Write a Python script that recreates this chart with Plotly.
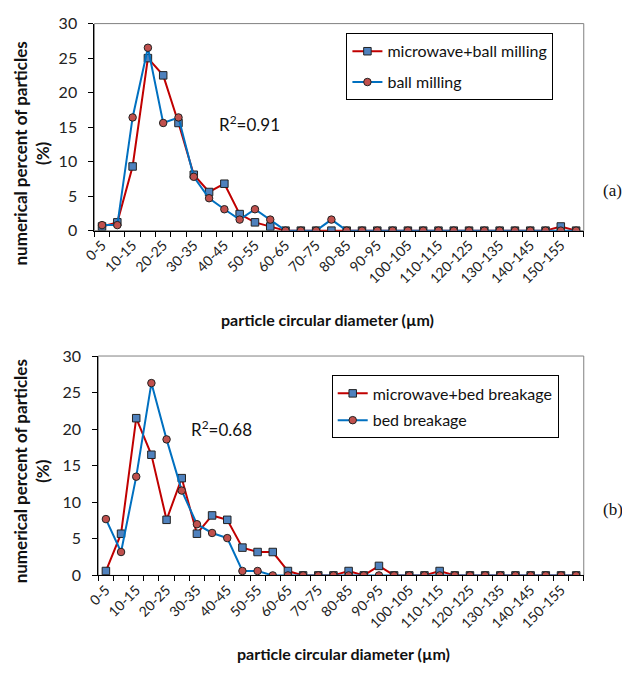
import plotly.graph_objects as go

categories = [f"{i*5}-{i*5+5}" for i in range(32)]

# (a) ball milling
mw_ball = [0.6, 1.2, 9.3, 25.0, 22.5, 15.6, 8.1, 5.6, 6.8, 2.4, 1.2, 0.6,
           0, 0, 0, 0, 0, 0, 0, 0, 0, 0, 0, 0, 0, 0, 0, 0, 0, 0, 0.6, 0]
ball = [0.8, 0.8, 16.4, 26.5, 15.6, 16.4, 7.8, 4.7, 3.1, 1.6, 3.1, 1.6,
        0, 0, 0, 1.6, 0, 0, 0, 0, 0, 0, 0, 0, 0, 0, 0, 0, 0, 0, 0, 0]

# (b) bed breakage
mw_bed = [0.6, 5.7, 21.5, 16.5, 7.6, 13.3, 5.7, 8.2, 7.6, 3.8, 3.2, 3.2,
          0.6, 0, 0, 0, 0.6, 0, 1.3, 0, 0, 0, 0.6, 0, 0, 0, 0, 0, 0, 0, 0, 0]
bed = [7.7, 3.2, 13.5, 26.3, 18.6, 11.6, 7.0, 5.8, 5.1, 0.6, 0.6, 0,
       0, 0, 0, 0, 0, 0, 0, 0, 0, 0, 0, 0, 0, 0, 0, 0, 0, 0, 0, 0]

y_ticks = [0, 5, 10, 15, 20, 25, 30]

W, H = 622, 678
FONT = "Lato"
RED = "#C00000"
BLUE = "#0070C0"
SQ_FILL = "#4F81BD"
CI_FILL = "#C0504D"
EDGE = "#222222"

xi = list(range(len(categories)))
boundaries = [i - 0.5 for i in range(len(categories) + 1)]

fig = go.Figure()

def add_pair(sq_vals, ci_vals, sq_name, ci_name, xa, ya, legend):
    fig.add_trace(go.Scatter(
        x=xi, y=sq_vals, name=sq_name, mode="lines+markers",
        line=dict(color=RED, width=2),
        marker=dict(symbol="square", size=7.5, color=SQ_FILL, line=dict(color=EDGE, width=1)),
        xaxis=xa, yaxis=ya, legend=legend, legendgroup=sq_name))
    fig.add_trace(go.Scatter(
        x=xi, y=ci_vals, name=ci_name, mode="lines+markers",
        line=dict(color=BLUE, width=2),
        marker=dict(symbol="circle", size=7.5, color=CI_FILL, line=dict(color=EDGE, width=1)),
        xaxis=xa, yaxis=ya, legend=legend, legendgroup=ci_name))

add_pair(mw_ball, ball, "microwave+ball milling", "ball milling", "x", "y", "legend")
add_pair(mw_bed, bed, "microwave+bed breakage", "bed breakage", "x2", "y2", "legend2")

dom_a_x = [84 / W, 583 / W]
dom_a_y = [1 - 227 / H, 1 - 14 / H]
dom_b_x = [88 / W, 583 / W]
dom_b_y = [1 - 581.7 / H, 1 - 356 / H]

def xaxis(dom, anchor):
    return dict(
        domain=dom, anchor=anchor, range=[-0.5, len(categories) - 0.5],
        tickmode="array", tickvals=xi[::2], ticktext=categories[::2],
        tickangle=-45, ticks="", showgrid=False, zeroline=False,
        showline=True, linecolor="black", linewidth=1,
        tickfont=dict(family=FONT, size=14, color="#222"),
        minor=dict(tickmode="array", tickvals=boundaries, ticks="outside",
                   ticklen=5, tickcolor="black", tickwidth=1, showgrid=False),
    )

def yaxis(dom, anchor):
    return dict(
        domain=dom, anchor=anchor, range=[0, 30],
        tickmode="array", tickvals=y_ticks, ticks="outside", ticklen=5,
        tickcolor="black", showgrid=False, zeroline=False,
        showline=True, linecolor="black", linewidth=1,
        ticklabelstandoff=8,
        tickfont=dict(family=FONT, size=16, color="#222"),
    )

shapes = []
for dx, dy in [(dom_a_x, dom_a_y), (dom_b_x, dom_b_y)]:
    shapes.append(dict(type="rect", xref="paper", yref="paper",
                       x0=dx[0], x1=dx[1], y0=dy[0], y1=dy[1],
                       line=dict(color="#808080", width=1), layer="below"))

ann = []
def A(text, x, y, size, bold=False, family=FONT, xanchor="center", angle=0):
    ann.append(dict(text=f"<b>{text}</b>" if bold else text, x=x / W, y=1 - y / H,
                    xref="paper", yref="paper", showarrow=False,
                    xanchor=xanchor, yanchor="middle", textangle=angle,
                    font=dict(family=family, size=size, color="#111")))

A("particle circular diameter (µm)", 322, 318, 16, bold=True)
A("particle circular diameter (µm)", 338, 662, 16, bold=True)
A("numerical percent of particles<br>(%)", 20, 148, 17, bold=True, angle=-90)
A("numerical percent of particles<br>(%)", 20, 475, 17, bold=True, angle=-90)
A("R<sup>2</sup>=0.91", 242, 117, 17)
A("R<sup>2</sup>=0.68", 214, 431, 17)
A("(a)", 601, 186, 17, family="Liberation Serif", xanchor="left")
A("(b)", 601, 514, 17, family="Liberation Serif", xanchor="left")

leg_common = dict(bordercolor="black", borderwidth=1, bgcolor="white",
                  font=dict(family=FONT, size=16, color="#111"),
                  xanchor="left", yanchor="top", tracegroupgap=7,
                  itemwidth=30)

fig.update_layout(
    width=W, height=H, margin=dict(l=0, r=0, t=0, b=0),
    paper_bgcolor="white", plot_bgcolor="white",
    xaxis=xaxis(dom_a_x, "y"), yaxis=yaxis(dom_a_y, "x"),
    xaxis2=xaxis(dom_b_x, "y2"), yaxis2=yaxis(dom_b_y, "x2"),
    legend=dict(x=341 / W, y=1 - 24 / H, **leg_common),
    legend2=dict(x=326 / W, y=1 - 376 / H, **{**leg_common, "tracegroupgap": 3}),
    shapes=shapes, annotations=ann, showlegend=True,
)

fig.write_html("out.html")
